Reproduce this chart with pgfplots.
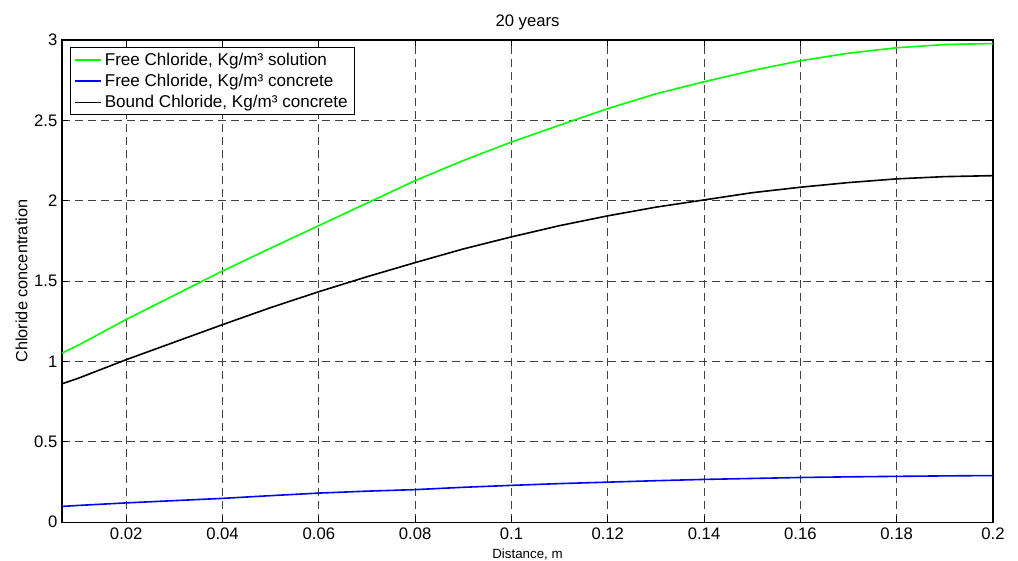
\documentclass[border=0pt]{standalone}
\usepackage{pgfplots}
\pgfplotsset{compat=1.18}
\usepackage{fontspec}
\setmainfont{Liberation Sans}
\begin{document}
\begin{tikzpicture}
\useasboundingbox (-46.5pt,-28.5pt) rectangle (716.75pt,391.5pt);
\begin{axis}[
  scale only axis,
  width=698pt, height=361.5pt,
  at={(0,0)}, anchor=south west,
  xmin=0.00667, xmax=0.2,
  ymin=0, ymax=3,
  xtick={0.02,0.04,...,0.2},
  ytick={0,0.5,...,3},
  scaled x ticks=false,
  xticklabel style={/pgf/number format/fixed,/pgf/number format/precision=2},
  /pgf/number format/assume math mode=true,
  tick label style={font=\fontsize{12.5}{14}\selectfont, color=black},
  xticklabel style={yshift=-1pt},
  tick align=inside,
  major tick length=4.5pt,
  tick style={black, line width=0.6pt},
  axis line style={black, line width=0.8pt},
  grid=major,
  major grid style={black!75, dash pattern=on 6pt off 3.75pt, line width=0.6pt},
  title={20 years},
  title style={font=\fontsize{12.5}{14}\selectfont, at={(axis description cs:0.5,1)}, anchor=center, yshift=7pt},
  xlabel={Distance, m},
  xlabel style={font=\fontsize{10}{12}\selectfont, at={(axis description cs:0.5,0)}, anchor=center, yshift=-24pt},
  ylabel={Chloride concentration},
  ylabel style={font=\fontsize{12.2}{14}\selectfont, at={(axis description cs:-0.0435,0.5)}, anchor=center},
  legend cell align=left,
  legend style={at={(axis description cs:0.0086,0.9855)}, anchor=north west,
    draw=black, line width=0.8pt, font=\fontsize{12.8}{14}\selectfont,
    inner xsep=3pt, inner ysep=2pt, row sep=1.1pt},
  legend image code/.code={\draw[#1, line width=1.2pt] (0pt,0pt) -- (19.5pt,0pt);},
]
\addplot[color={rgb,1:red,0;green,1;blue,0}, line width=1.2pt] coordinates {
(0.00667,1.052) (0.01,1.10) (0.02,1.261) (0.03,1.412) (0.04,1.5625) (0.05,1.705)
(0.06,1.845) (0.07,1.985) (0.08,2.125) (0.09,2.25) (0.10,2.365) (0.11,2.47)
(0.12,2.573) (0.13,2.665) (0.14,2.74) (0.15,2.81) (0.16,2.871) (0.17,2.918)
(0.18,2.952) (0.19,2.972) (0.20,2.978)
};
\addlegendentry{Free Chloride, Kg/m³ solution}
\addplot[color={rgb,1:red,0;green,0;blue,1}, line width=1.2pt] coordinates {
(0.00667,0.098) (0.01,0.104) (0.02,0.12) (0.03,0.134) (0.04,0.148) (0.05,0.165)
(0.06,0.181) (0.07,0.193) (0.08,0.2025) (0.09,0.217) (0.10,0.229) (0.11,0.24)
(0.12,0.249) (0.13,0.258) (0.14,0.266) (0.15,0.272) (0.16,0.278) (0.17,0.282)
(0.18,0.285) (0.19,0.288) (0.20,0.29)
};
\addlegendentry{Free Chloride, Kg/m³ concrete}
\addplot[black, line width=1.2pt] coordinates {
(0.00667,0.861) (0.01,0.895) (0.02,1.011) (0.03,1.12) (0.04,1.229) (0.05,1.335)
(0.06,1.434) (0.07,1.527) (0.08,1.615) (0.09,1.70) (0.10,1.775) (0.11,1.845)
(0.12,1.906) (0.13,1.96) (0.14,2.005) (0.15,2.05) (0.16,2.084) (0.17,2.113)
(0.18,2.136) (0.19,2.15) (0.20,2.156)
};
\addlegendentry{Bound Chloride, Kg/m³ concrete}
\end{axis}
\end{tikzpicture}
\end{document}
